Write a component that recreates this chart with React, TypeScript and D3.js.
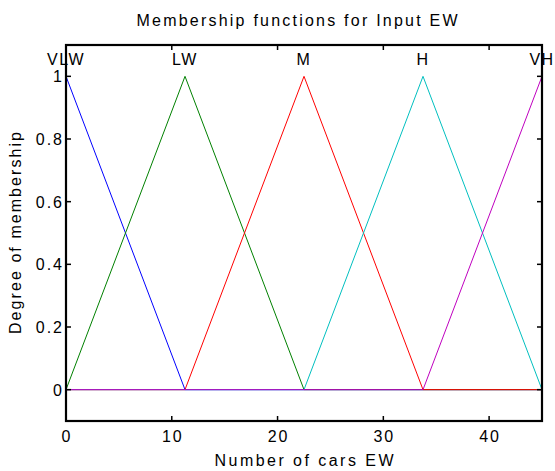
import React from 'react';
import * as d3 from 'd3';

// membership functions for input EW (triangular, params a b c)
const mfNames = ['VLW', 'LW', 'M', 'H', 'VH'];
const mfParams = [
  [-11.25, 0, 11.25],
  [0, 11.25, 22.5],
  [11.25, 22.5, 33.75],
  [22.5, 33.75, 45],
  [33.75, 45, 56.25],
];
const mfColors = ['#0000ff', '#008000', '#ff0000', '#00bfbf', '#bf00bf'];

const xTicks = [0, 10, 20, 30, 40];
const yTicks = [0, 0.2, 0.4, 0.6, 0.8, 1];
const xRange = [0, 45];
const yRange = [-0.1, 1.1];

const trimf = (x: number, [a, b, c]: number[]) =>
  Math.max(Math.min((x - a) / (b - a), (c - x) / (c - b)), 0);

export default function App() {
  const width = 555;
  const height = 471;
  const margin = { top: 45, right: 13, bottom: 50, left: 66 };

  const x = d3.scaleLinear().domain(xRange).range([margin.left, width - margin.right]);
  const y = d3.scaleLinear().domain(yRange).range([height - margin.bottom, margin.top]);

  const line = d3.line<[number, number]>()
    .x(d => x(d[0]))
    .y(d => y(d[1]));

  const curves = mfParams.map(p => {
    const xs = [xRange[0], ...p, xRange[1]]
      .filter(v => v >= xRange[0] && v <= xRange[1])
      .sort((a, b) => a - b);
    return line(xs.map(v => [v, trimf(v, p)] as [number, number]));
  });

  const x0 = x.range()[0], x1 = x.range()[1];
  const y0 = y.range()[0], y1 = y.range()[1];
  const tick = 5;
  const font = 'Liberation Sans, Arial, sans-serif';

  return (
    <svg width={width} height={height}
      style={{ position: 'absolute', left: 0, top: 0, background: '#fff' }}
      fontFamily={font}>
      <rect width={width} height={height} fill="#fff" />

      {curves.map((d, i) => (
        <path key={mfNames[i]} d={d ?? ''} fill="none" stroke={mfColors[i]} strokeWidth={1} />
      ))}

      {/* ticks on all four sides, pointing in */}
      {xTicks.map(t => (
        <g key={'xt' + t} stroke="#000" strokeWidth={1.5}>
          <line x1={x(t)} x2={x(t)} y1={y0} y2={y0 - tick} />
          <line x1={x(t)} x2={x(t)} y1={y1} y2={y1 + tick} />
        </g>
      ))}
      {yTicks.map(t => (
        <g key={'yt' + t} stroke="#000" strokeWidth={1.5}>
          <line x1={x0} x2={x0 + tick} y1={y(t)} y2={y(t)} />
          <line x1={x1} x2={x1 - tick} y1={y(t)} y2={y(t)} />
        </g>
      ))}

      <rect x={x0} y={y1} width={x1 - x0} height={y0 - y1}
        fill="none" stroke="#000" strokeWidth={2.2} />

      {xTicks.map(t => (
        <text key={'xl' + t} x={x(t) + 1} y={y0 + 21} textAnchor="middle"
          fontSize={16} letterSpacing={2}>{t}</text>
      ))}
      {yTicks.map(t => (
        <text key={'yl' + t} x={x0 - 2} y={y(t) + 6} textAnchor="end"
          fontSize={16} letterSpacing={2}>{t}</text>
      ))}

      {mfNames.map((n, i) => (
        <text key={'mf' + n} x={x(mfParams[i][1])} y={y1 + 20} textAnchor="middle"
          fontSize={16} letterSpacing={1.5}>{n}</text>
      ))}

      <text x={297} y={26} textAnchor="middle" fontSize={16}
        textLength={321} lengthAdjust="spacing">Membership functions for Input EW</text>
      <text x={(x0 + x1) / 2} y={466} textAnchor="middle" fontSize={16}
        textLength={179} lengthAdjust="spacing">Number of cars EW</text>
      <text transform={`translate(21, ${(y0 + y1) / 2}) rotate(-90)`} textAnchor="middle"
        fontSize={16} textLength={202} lengthAdjust="spacing">Degree of membership</text>
    </svg>
  );
}
